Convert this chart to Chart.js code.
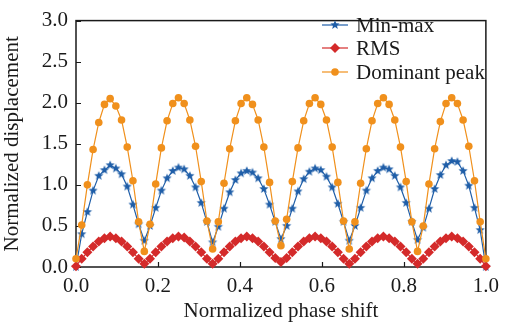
<!DOCTYPE html>
<html>
<head>
<meta charset="utf-8">
<script src="https://cdn.jsdelivr.net/npm/chart.js@4"></script>
<style>
  html, body { margin: 0; padding: 0; background: #fff; }
</style>
</head>
<body>
<canvas id="chart" width="506" height="329"></canvas>
<script>
// phase shift sampled in 72 steps over one full cycle
const phaseSteps = 72;
const seriesNames = ["Min-max", "RMS", "Dominant peak"];

const minMax = [
  0.00, 0.40, 0.67, 0.93, 1.11, 1.18, 1.24, 1.20, 1.13, 0.98, 0.76, 0.52,
  0.32, 0.50, 0.72, 0.93, 1.08, 1.17, 1.21, 1.19, 1.11, 0.97, 0.78, 0.55,
  0.30, 0.49, 0.71, 0.91, 1.06, 1.14, 1.17, 1.15, 1.08, 0.95, 0.76, 0.55,
  0.34, 0.50, 0.71, 0.92, 1.07, 1.16, 1.20, 1.18, 1.10, 0.97, 0.77, 0.55,
  0.32, 0.50, 0.72, 0.93, 1.08, 1.17, 1.21, 1.19, 1.11, 0.97, 0.78, 0.55,
  0.33, 0.48, 0.71, 0.95, 1.12, 1.24, 1.29, 1.28, 1.17, 0.99, 0.72, 0.45,
  0.00
];

const rms = [
  0.01, 0.10, 0.18, 0.25, 0.31, 0.35, 0.37, 0.35, 0.31, 0.25, 0.18, 0.10,
  0.04, 0.10, 0.18, 0.25, 0.31, 0.35, 0.37, 0.36, 0.31, 0.25, 0.18, 0.10,
  0.04, 0.10, 0.18, 0.25, 0.31, 0.35, 0.37, 0.35, 0.31, 0.25, 0.18, 0.11,
  0.06, 0.11, 0.18, 0.25, 0.31, 0.35, 0.37, 0.35, 0.31, 0.25, 0.18, 0.10,
  0.04, 0.10, 0.18, 0.25, 0.31, 0.35, 0.37, 0.35, 0.31, 0.25, 0.18, 0.10,
  0.04, 0.10, 0.18, 0.25, 0.31, 0.35, 0.37, 0.35, 0.31, 0.25, 0.18, 0.10,
  0.01
];

const dominantPeak = [
  0.10, 0.51, 1.00, 1.43, 1.76, 1.98, 2.05, 1.96, 1.79, 1.46, 1.05, 0.55,
  0.19, 0.52, 1.01, 1.45, 1.78, 1.99, 2.06, 1.99, 1.79, 1.47, 1.04, 0.56,
  0.22, 0.55, 1.02, 1.44, 1.78, 1.99, 2.06, 1.98, 1.79, 1.46, 1.03, 0.56,
  0.26, 0.58, 1.04, 1.45, 1.78, 1.99, 2.06, 1.98, 1.79, 1.46, 1.03, 0.56,
  0.22, 0.55, 1.02, 1.44, 1.78, 1.99, 2.06, 1.98, 1.79, 1.46, 1.04, 0.55,
  0.19, 0.50, 1.01, 1.44, 1.77, 1.99, 2.06, 1.99, 1.79, 1.47, 1.05, 0.55,
  0.10
];

const colors = ["#1f5ea8", "#d42a2a", "#f0901c"];
const serif = "'Liberation Serif', 'DejaVu Serif', serif";

function toPoints(values) {
  return values.map((v, i) => ({ x: i / phaseSteps, y: v }));
}

// filled five-point star used as marker
function makeStar(color, outer, inner) {
  const c = document.createElement("canvas");
  const size = Math.ceil(outer * 2) + 2;
  c.width = size; c.height = size;
  const g = c.getContext("2d");
  g.fillStyle = color;
  g.beginPath();
  for (let k = 0; k < 10; k++) {
    const r = k % 2 === 0 ? outer : inner;
    const a = -Math.PI / 2 + k * Math.PI / 5;
    const px = size / 2 + r * Math.cos(a);
    const py = size / 2 + r * Math.sin(a);
    k === 0 ? g.moveTo(px, py) : g.lineTo(px, py);
  }
  g.closePath();
  g.fill();
  return c;
}
const star = makeStar(colors[0], 4.8, 2.1);

const markers = [
  { pointStyle: star, pointRadius: 4.5 },
  { pointStyle: "rectRot", pointRadius: 5 },
  { pointStyle: "circle", pointRadius: 3.8 }
];

// box around the plot with inward ticks
const framePlugin = {
  id: "frame",
  beforeDatasetsDraw(chart) {
    const { ctx, chartArea: a, scales } = chart;
    ctx.save();
    ctx.strokeStyle = "#1a1a1a";
    ctx.lineWidth = 1.5;
    ctx.strokeRect(a.left, a.top, a.right - a.left, a.bottom - a.top);
    ctx.lineWidth = 1.2;
    ctx.beginPath();
    scales.y.ticks.forEach(t => {
      const y = Math.round(scales.y.getPixelForValue(t.value)) + 0.5;
      ctx.moveTo(a.left, y); ctx.lineTo(a.left + 5, y);
    });
    scales.x.ticks.forEach(t => {
      const x = Math.round(scales.x.getPixelForValue(t.value)) + 0.5;
      ctx.moveTo(x, a.bottom); ctx.lineTo(x, a.bottom - 5);
    });
    ctx.stroke();
    ctx.restore();
  }
};

// legend inside the top right corner: line + marker + name
const legendPlugin = {
  id: "innerLegend",
  afterDraw(chart) {
    const { ctx } = chart;
    const rows = [25, 48, 72];
    ctx.save();
    chart.data.datasets.forEach((ds, i) => {
      const y = rows[i];
      ctx.strokeStyle = ds.borderColor;
      ctx.lineWidth = 1.2;
      ctx.beginPath();
      ctx.moveTo(322, y); ctx.lineTo(348, y);
      ctx.stroke();
      ctx.fillStyle = ds.backgroundColor;
      ctx.strokeStyle = ds.borderColor;
      Chart.helpers.drawPoint(ctx, { pointStyle: ds.pointStyle, radius: ds.pointRadius, borderWidth: 0, rotation: 0 }, 335, y);
      ctx.fillStyle = "#1a1a1a";
      ctx.font = "21px " + serif;
      ctx.textBaseline = "middle";
      ctx.fillText(ds.label, 356, y + 1);
    });
    ctx.restore();
  }
};

const datasets = [minMax, rms, dominantPeak].map((vals, i) => ({
  label: seriesNames[i],
  data: toPoints(vals),
  borderColor: colors[i],
  backgroundColor: colors[i],
  borderWidth: 1.2,
  pointBorderWidth: 0,
  pointStyle: markers[i].pointStyle,
  pointRadius: markers[i].pointRadius,
  tension: 0,
  clip: false,
  order: 3 - i
}));

new Chart(document.getElementById("chart"), {
  type: "line",
  data: { datasets },
  options: {
    responsive: false,
    animation: false,
    devicePixelRatio: 1,
    layout: { padding: { top: 13, right: 14, left: 0, bottom: 0 } },
    plugins: { legend: { display: false }, tooltip: { enabled: false } },
    scales: {
      x: {
        type: "linear",
        min: 0, max: 1,
        grid: { display: false, drawTicks: false },
        border: { display: false },
        ticks: {
          stepSize: 0.2, padding: 7, maxRotation: 0, color: "#1a1a1a",
          font: { family: serif, size: 21 },
          callback: v => v.toFixed(1)
        },
        title: {
          display: true, text: "Normalized phase shift", color: "#1a1a1a",
          font: { family: serif, size: 21 }, padding: { top: 0, bottom: 5 }
        },
        afterFit: s => { s.height = 62; }
      },
      y: {
        min: 0, max: 3,
        grid: { display: false, drawTicks: false },
        border: { display: false },
        ticks: {
          stepSize: 0.5, padding: 8, color: "#1a1a1a",
          font: { family: serif, size: 21 },
          callback: v => v.toFixed(1)
        },
        title: {
          display: true, text: "Normalized displacement", color: "#1a1a1a",
          font: { family: serif, size: 21 }, padding: { top: 0, bottom: 0 }
        },
        afterFit: s => { s.width = 76; }
      }
    }
  },
  plugins: [framePlugin, legendPlugin]
});
</script>
</body>
</html>
